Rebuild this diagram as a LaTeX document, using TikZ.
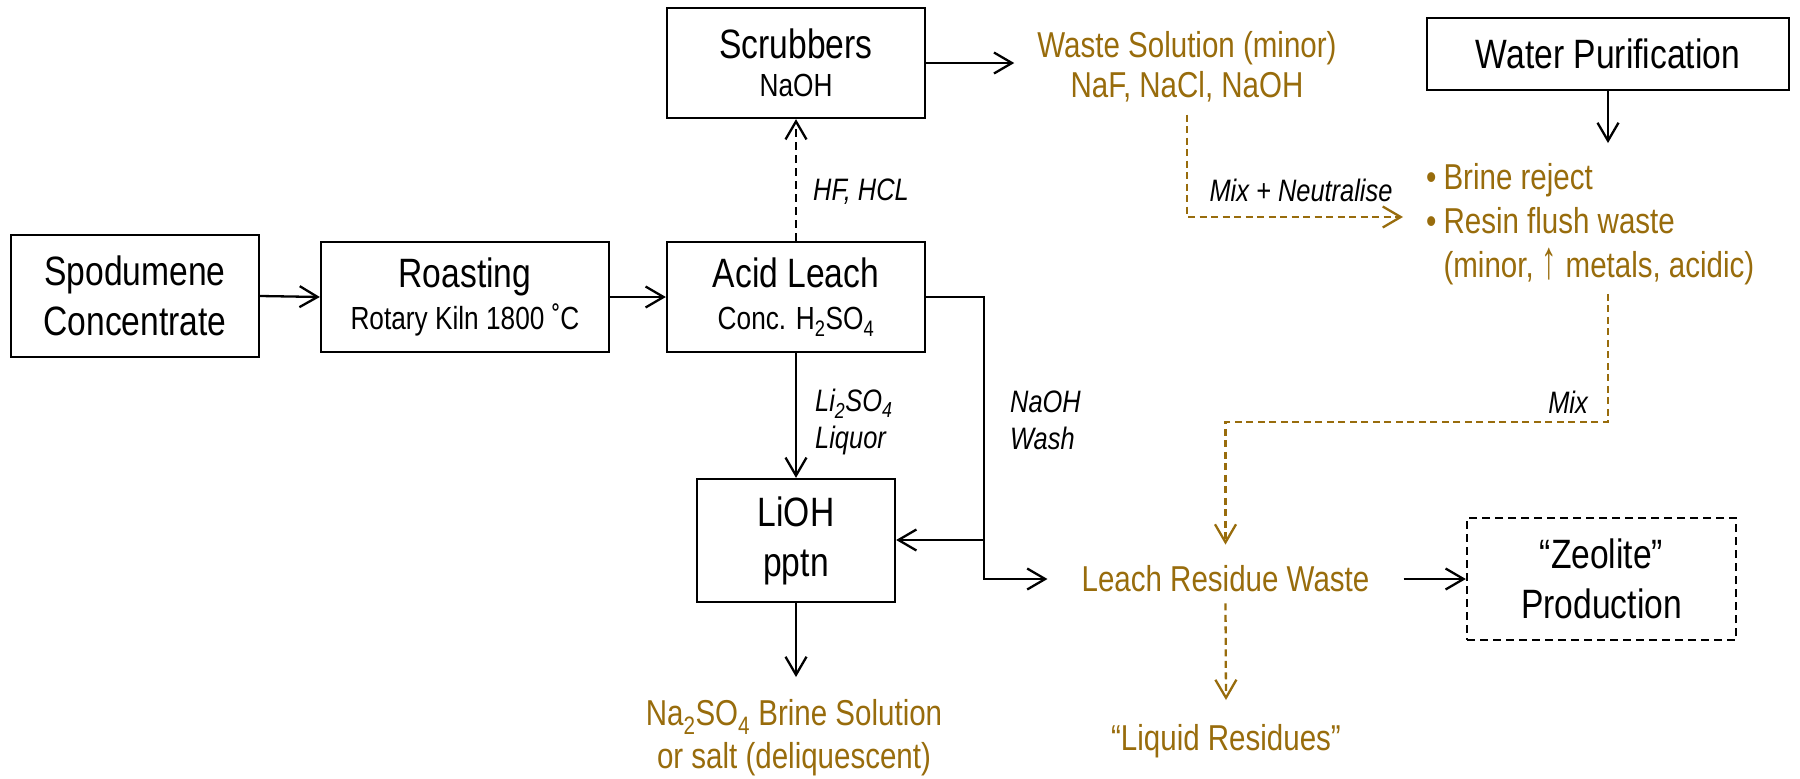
\documentclass[tikz,border=0pt]{standalone}
\usepackage{fontspec}
\usepackage{graphicx}
\setmainfont{Liberation Sans}[FakeStretch=0.82]
\usetikzlibrary{arrows.meta,calc}
\definecolor{gold}{RGB}{152,108,12}
\newcommand{\fbig}{\fontsize{41}{50}\selectfont}
\newcommand{\fsub}{\fontsize{32}{38}\selectfont}
\newcommand{\fgold}{\fontsize{36}{44}\selectfont}
\newcommand{\flab}{\itshape\fontsize{31}{37}\selectfont}
\newcommand{\uparr}{\raisebox{-1pt}{\scalebox{1.05}[1.5]{↑}}}
\begin{document}
\begin{tikzpicture}[x=1pt,y=-1pt,
  lw/.style={line width=2.3pt},
  box/.style={draw, lw, align=center, inner sep=0pt, font=\fbig},
  dbox/.style={box, dash pattern=on 8pt off 5pt},
  gtxt/.style={text=gold, font=\fgold, inner sep=0pt, align=center},
  lab/.style={font=\flab, inner sep=0pt, align=left},
  arr/.style={lw, -{Straight Barb[length=18pt,width=21pt]}},
  darr/.style={arr, dash pattern=on 8pt off 5pt},
  garr/.style={arr, draw=gold, dash pattern=on 7pt off 4.5pt},
]
\useasboundingbox (0,0) rectangle (1800,779);

% boxes
\node[box, minimum width=248pt, minimum height=122pt] (spod) at (135,296) {Spodumene\\Concentrate};
\node[box, minimum width=288pt, minimum height=110pt] (roast) at (465,297) {Roasting\\[-8pt]{\fsub Rotary Kiln 1800 ˚C}};
\node[box, minimum width=258pt, minimum height=110pt] (acid) at (796,297) {Acid Leach\\[-8pt]{\fsub Conc. H\textsubscript{2}SO\textsubscript{4}}};
\node[box, minimum width=258pt, minimum height=110pt] (scrub) at (796,63) {Scrubbers\\[-12pt]{\fsub NaOH}};
\node[box, minimum width=362pt, minimum height=72pt] (water) at (1608,54) {Water Purification};
\node[box, minimum width=198pt, minimum height=123pt] (lioh) at (796,540.5) {LiOH\\pptn};
\node[dbox, minimum width=269pt, minimum height=122pt] (zeol) at (1601.5,579) {“Zeolite”\\Production};

% gold texts
\node[gtxt] (waste) at (1187,67) {Waste Solution (minor)\\[-4pt]NaF, NaCl, NaOH};
\node[gtxt, align=left, anchor=west] (brine) at (1426,224) {\textbullet\hspace{7pt}Brine reject\\\textbullet\hspace{7pt}Resin flush waste\\\hphantom{\textbullet\hspace{7pt}}(minor, \uparr\ metals, acidic)};
\node[gtxt] (leach) at (1225.5,579) {Leach Residue Waste};
\node[gtxt] (liquid) at (1226,741) {“Liquid Residues”};
\node[gtxt] (na2) at (794,737.5) {Na\textsubscript{2}SO\textsubscript{4} Brine Solution\\[-1pt]or salt (deliquescent)};

% labels
\node[lab, anchor=west] (hf) at (813,192) {HF, HCL};
\node[lab, anchor=west] (li) at (815,422) {Li\textsubscript{2}SO\textsubscript{4}\\Liquor};
\node[lab, anchor=west] (naoh) at (1010,420) {NaOH\\Wash};
\node[lab] (mixn) at (1301,190) {Mix + Neutralise};
\node[lab, anchor=east] (mixl) at (1588,402) {Mix};

% connectors
\draw[arr] (spod.east) -- (roast.west);
\draw[arr] (roast.east) -- (acid.west);
\draw[darr] (acid.north) -- (scrub.south);
\draw[arr] (scrub.east) -- ($(scrub.east -| waste.west)+(-23,0)$);
\draw[arr] (acid.south) -- (lioh.north);
\coordinate (split) at (984,540);
\draw[lw] (acid.east) -| (split);
\draw[arr] (split) -- (lioh.east |- split);
\draw[arr] (split) |- ($(leach.west)+(-34,0)$);
\draw[arr] (lioh.south) -- ($(lioh.south |- na2.north)+(0,-22)$);
\draw[arr] ($(leach.east)+(34,0)$) -- (zeol.west);
\draw[arr] (water.south) -- ($(water.south |- brine.north)+(0,-20)$);
\draw[garr] ($(waste.south)+(0,12)$) |- ($(brine.west)+(-23,-7)$);
\coordinate (mixc) at (1608,422);
\draw[garr] ($(water.south |- brine.south)+(0,9)$) -- (mixc) -| ($(leach.north)+(0,-21)$);
\draw[garr] ($(leach.south)+(0,11)$) -- ($(liquid.north)+(0,-24)$);
\end{tikzpicture}
\end{document}
